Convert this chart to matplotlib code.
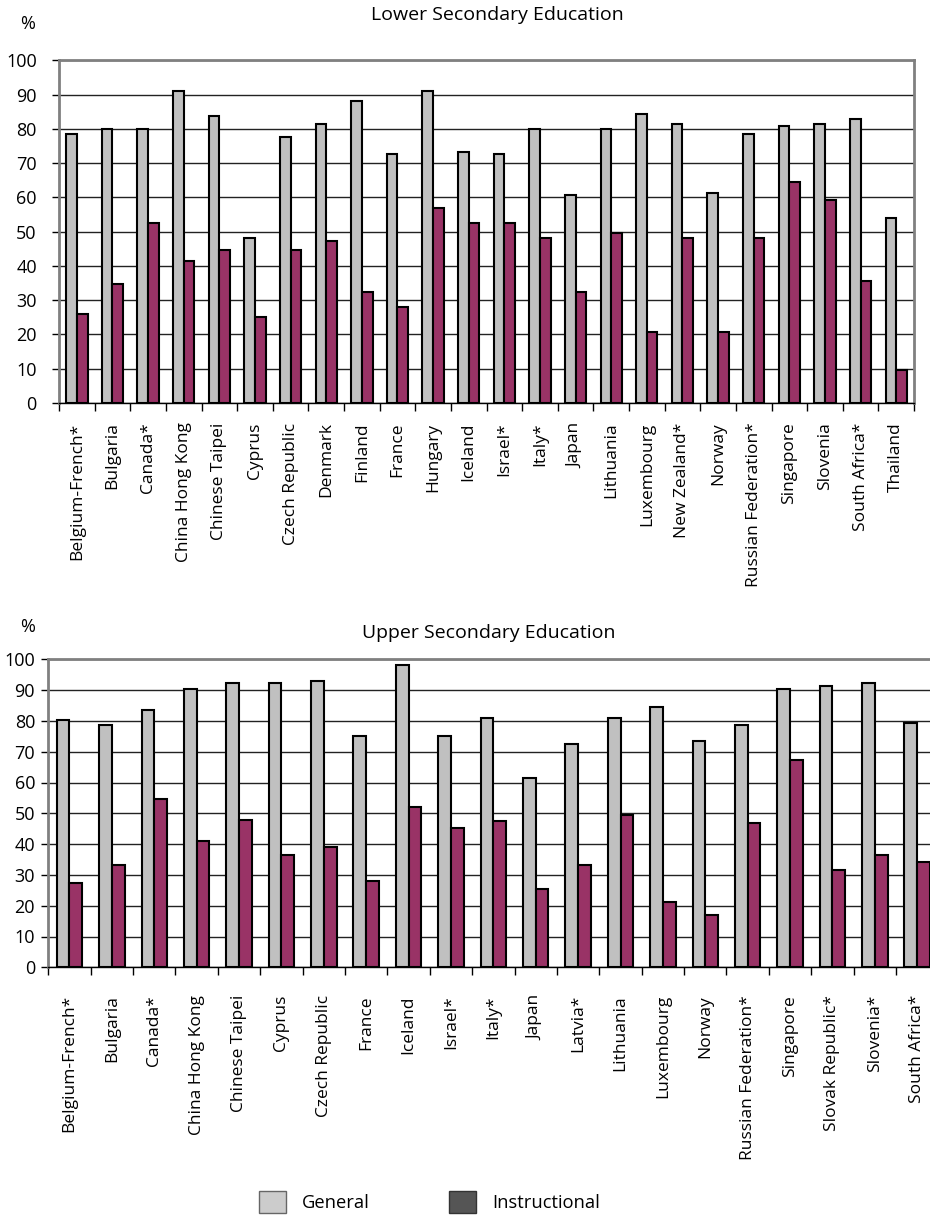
import matplotlib
matplotlib.use("Agg")
import matplotlib.pyplot as plt
from matplotlib.patches import Patch
import numpy as np

plt.rcParams['font.family'] = ['Open Sans', 'DejaVu Sans']

# Lower secondary education
lower_countries = ["Belgium-French*", "Bulgaria", "Canada*", "China Hong Kong",
                   "Chinese Taipei", "Cyprus", "Czech Republic", "Denmark", "Finland",
                   "France", "Hungary", "Iceland", "Israel*", "Italy*", "Japan",
                   "Lithuania", "Luxembourg", "New Zealand*", "Norway",
                   "Russian Federation*", "Singapore", "Slovenia", "South Africa*",
                   "Thailand"]
lower_general = [78.5, 80.0, 80.0, 91.1, 83.7, 48.2, 77.7, 81.4, 88.2, 72.6, 91.1, 73.2,
                 72.6, 80.0, 60.7, 80.0, 84.3, 81.4, 61.4, 78.5, 80.7, 81.4, 83.0, 54.0]
lower_instructional = [25.9, 34.7, 52.6, 41.4, 44.5, 25.0, 44.5, 47.4, 32.4, 28.1, 56.9,
                       52.6, 52.6, 48.2, 32.4, 49.7, 20.6, 48.2, 20.6, 48.2, 64.4, 59.2,
                       35.6, 9.6]

# Upper secondary education
upper_countries = ["Belgium-French*", "Bulgaria", "Canada*", "China Hong Kong",
                   "Chinese Taipei", "Cyprus", "Czech Republic", "France", "Iceland",
                   "Israel*", "Italy*", "Japan", "Latvia*", "Lithuania", "Luxembourg",
                   "Norway", "Russian Federation*", "Singapore", "Slovak Republic*",
                   "Slovenia*", "South Africa*"]
upper_general = [80.3, 78.6, 83.5, 90.5, 92.2, 92.2, 93.0, 75.0, 98.2, 75.0, 81.1, 61.4,
                 72.5, 81.1, 84.4, 73.4, 78.6, 90.5, 91.2, 92.2, 79.2]
upper_instructional = [27.3, 33.2, 54.7, 41.0, 47.8, 36.6, 39.2, 27.9, 51.9, 45.2, 47.6,
                       25.4, 33.2, 49.4, 21.1, 17.0, 46.9, 67.2, 31.6, 36.6, 34.1]

yticks = list(range(0, 101, 10))

GRAY = "#c0c0c0"
PURPLE = "#993366"
FRAME = "#808080"

W, H = 930, 1216
fig = plt.figure(figsize=(W / 100, H / 100), dpi=100)


def px_axes(left, top, right, bottom):
    return fig.add_axes([left / W, 1 - bottom / H, (right - left) / W, (bottom - top) / H])


def draw_panel(ax, countries, general, instructional, ypad, xpad):
    n = len(countries)
    x = np.arange(n)
    w = 0.3
    ax.bar(x - w / 2, general, w, color=GRAY, edgecolor="black", linewidth=1.5, zorder=3)
    ax.bar(x + w / 2, instructional, w, color=PURPLE, edgecolor="black", linewidth=1.5,
           zorder=3)
    ax.set_xlim(-0.5, n - 0.5)
    ax.set_ylim(0, 100)
    ax.set_yticks(yticks)
    ax.tick_params(axis="y", length=5, width=1, labelsize=13, pad=ypad, color="black")
    ax.set_xticks(x)
    ax.set_xticklabels(countries, rotation=90, fontsize=12.5, va="top", ha="center")
    ax.tick_params(axis="x", which="major", length=0, pad=xpad)
    ax.set_xticks(np.arange(n + 1) - 0.5, minor=True)
    ax.tick_params(axis="x", which="minor", length=6, width=1, color="black")
    ax.grid(axis="y", color="#222222", linewidth=1, zorder=0)
    for s in ("top", "right", "left"):
        ax.spines[s].set_color(FRAME)
        ax.spines[s].set_linewidth(2)
    ax.spines["bottom"].set_color("black")
    ax.spines["bottom"].set_linewidth(1)
    ax.set_axisbelow(True)


ax1 = px_axes(59, 60.3, 914, 403)
draw_panel(ax1, lower_countries, lower_general, lower_instructional, ypad=11, xpad=14)
ax2 = px_axes(48.3, 659.3, 938.4, 967.3)
draw_panel(ax2, upper_countries, upper_general, upper_instructional, ypad=4.5, xpad=20)

fig.text(28 / W, 1 - 24 / H, "%", fontsize=13, ha="center", va="center")
fig.text(497 / W, 1 - 15 / H, "Lower Secondary Education", fontsize=14,
         ha="center", va="center")
fig.text(28 / W, 1 - 627 / H, "%", fontsize=13, ha="center", va="center")
fig.text(489 / W, 1 - 633 / H, "Upper Secondary Education", fontsize=14,
         ha="center", va="center")

handles = [Patch(facecolor="#cccccc", edgecolor="#666666", linewidth=1, label="General"),
           Patch(facecolor="#555555", edgecolor="#333333", linewidth=1, label="Instructional")]
fig.legend(handles=handles, loc="center", bbox_to_anchor=(429.5 / W, 1 - 1202 / H),
           ncol=2, frameon=False, fontsize=13.2, handlelength=1.45, handleheight=1.45,
           columnspacing=4.3, handletextpad=0.9)

fig.savefig("out.png", dpi=100)
